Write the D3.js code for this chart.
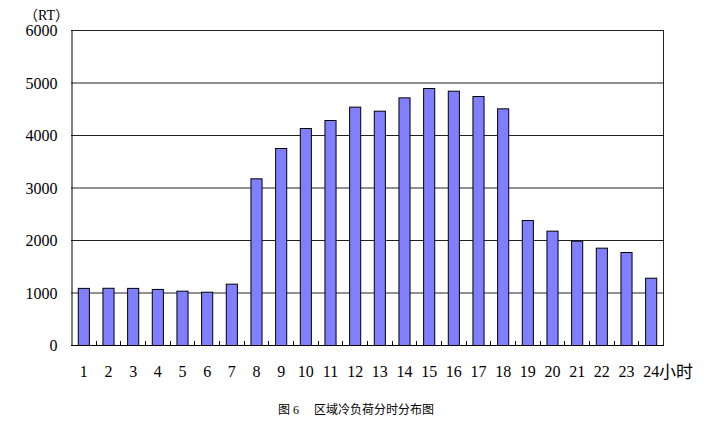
<!DOCTYPE html>
<html><head><meta charset="utf-8">
<script src="https://cdn.jsdelivr.net/npm/d3@7"></script>
<style>body{margin:0;background:#fff}text{font-family:"Liberation Serif","Noto Sans CJK SC",serif}</style>
</head><body>
<svg id="c" width="709" height="428"></svg>
<script>
const hours = ["1","2","3","4","5","6","7","8","9","10","11","12","13","14","15","16","17","18","19","20","21","22","23","24"];
const loads = [1088,1090,1088,1068,1035,1015,1168,3175,3752,4133,4286,4540,4463,4717,4895,4844,4743,4508,2381,2178,1987,1854,1771,1282];
const yTicks = [0,1000,2000,3000,4000,5000,6000];
const unitLabel = "（RT）";
const xUnit = "小时";
const caption = "图 6\u3000 区域冷负荷分时分布图";

const svg = d3.select("#c");
const L = 71, R = 663, T = 30, B = 345;
const x = d3.scaleBand().domain(hours).range([L, R]).paddingInner(0.55).paddingOuter(0.275);
const y = d3.scaleLinear().domain([0, 6000]).range([B, T]);

// gridlines
svg.append("g").selectAll("line").data(yTicks.filter(d => d > 0)).join("line")
  .attr("x1", L).attr("x2", R).attr("y1", d => y(d) + 0.5).attr("y2", d => y(d) + 0.5)
  .attr("stroke", "#222").attr("stroke-width", 1);

// right border
svg.append("line").attr("x1", R + 0.5).attr("x2", R + 0.5).attr("y1", T).attr("y2", B)
  .attr("stroke", "#222");

// bars
svg.append("g").selectAll("rect").data(loads).join("rect")
  .attr("x", (d, i) => x(hours[i]) + 0.5)
  .attr("y", d => y(d) + 0.5)
  .attr("width", x.bandwidth())
  .attr("height", d => B - y(d))
  .attr("fill", "#8080ff").attr("stroke", "#000").attr("stroke-width", 1);

// left axis
const yAxis = d3.axisLeft(y).tickValues(yTicks).tickFormat(d3.format("d")).tickSize(0).tickPadding(14);
const gy = svg.append("g").attr("transform", `translate(${L + 0.5},0.5)`).call(yAxis);
gy.select(".domain").attr("stroke", "#000");
gy.selectAll("text").attr("font-size", 16).attr("fill", "#000");

// bottom axis
const step = x.step();
svg.append("line").attr("x1", L).attr("x2", R + 1).attr("y1", B + 0.5).attr("y2", B + 0.5).attr("stroke", "#000");
const bounds = d3.range(1, hours.length).map(i => L + i * step);
svg.append("g").selectAll("line").data(bounds).join("line")
  .attr("x1", d => Math.round(d) + 0.5).attr("x2", d => Math.round(d) + 0.5)
  .attr("y1", B).attr("y2", B - 4).attr("stroke", "#000");

svg.append("g").selectAll("text").data(hours).join("text")
  .attr("x", d => x(d) + x.bandwidth() / 2 + 0.5)
  .attr("y", 377)
  .attr("text-anchor", "middle").attr("font-size", 16).text(d => d);

svg.append("text").attr("x", 659).attr("y", 378).attr("font-size", 17)
  .attr("font-family", "Noto Sans CJK SC").text(xUnit);

svg.append("text").attr("x", 24).attr("y", 20).attr("font-size", 14)
  .attr("font-family", "Noto Sans CJK SC").text(unitLabel);

svg.append("text").attr("x", 356).attr("y", 414).attr("text-anchor", "middle")
  .attr("font-size", 12).attr("font-family", "Noto Sans CJK SC").text(caption);
</script>
</body></html>
